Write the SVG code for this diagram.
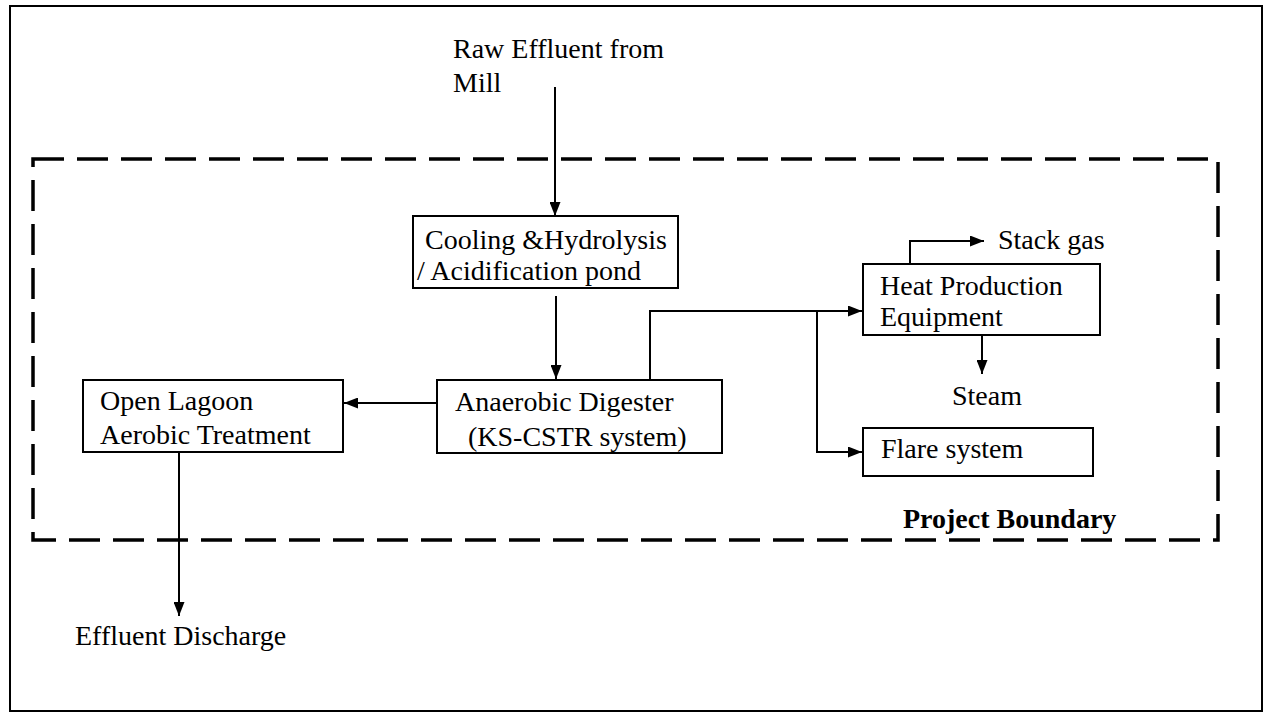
<svg xmlns="http://www.w3.org/2000/svg" width="1265" height="713" viewBox="0 0 1265 713">
<defs>
<marker id="ah" viewBox="0 0 14 11" refX="14" refY="5.5" markerWidth="14" markerHeight="11" markerUnits="userSpaceOnUse" orient="auto">
<path d="M0,0 L14,5.5 L0,11 z" fill="#000"/>
</marker>
</defs>
<style>
.t{font-family:"Liberation Serif","Times New Roman",serif;font-size:28px;fill:#000}
.b{font-weight:bold}
.box{fill:#fff;stroke:#000;stroke-width:2}
.c{fill:none;stroke:#000;stroke-width:2}
.a{marker-end:url(#ah)}
</style>
<rect x="0" y="0" width="1265" height="713" fill="#fff"/>
<rect id="frame" x="10" y="6" width="1252" height="705" fill="none" stroke="#000" stroke-width="2"/>
<g id="boundary">
<rect x="33" y="159" width="1185" height="381" fill="none" stroke="#000" stroke-width="3.5" stroke-dasharray="31 13"/>
<text class="t b" x="903" y="528">Project Boundary</text>
</g>
<g id="connectors">
<path class="c a" d="M555,87 V216"/>
<path class="c a" d="M556,296 V379"/>
<path class="c a" d="M437,403 H344"/>
<path class="c a" d="M179,452 V616"/>
<path class="c a" d="M650,380 V311 H862"/>
<path class="c a" d="M817,311 V452 H862"/>
<path class="c a" d="M910,264 V241 H984"/>
<path class="c a" d="M982,335 V374"/>
</g>
<g id="raw">
<text class="t" x="453" y="58">Raw Effluent from</text>
<text class="t" x="453" y="92">Mill</text>
</g>
<g id="cooling">
<rect class="box" x="413" y="216" width="265" height="72"/>
<text class="t" x="425" y="249">Cooling &amp;Hydrolysis</text>
<text class="t" x="417" y="280">/ Acidification pond</text>
</g>
<g id="anaerobic">
<rect class="box" x="437" y="380" width="285" height="73"/>
<text class="t" x="455" y="411">Anaerobic Digester</text>
<text class="t" x="468" y="446">(KS-CSTR system)</text>
</g>
<g id="lagoon">
<rect class="box" x="83" y="380" width="260" height="72"/>
<text class="t" x="100" y="410">Open Lagoon</text>
<text class="t" x="100" y="444">Aerobic Treatment</text>
</g>
<g id="heat">
<rect class="box" x="863" y="264" width="237" height="71"/>
<text class="t" x="880" y="295">Heat Production</text>
<text class="t" x="880" y="326">Equipment</text>
</g>
<g id="flare">
<rect class="box" x="863" y="428" width="230" height="48"/>
<text class="t" x="881" y="458">Flare system</text>
</g>
<g id="labels">
<text class="t" x="998" y="249">Stack gas</text>
<text class="t" x="952" y="405">Steam</text>
<text class="t" x="75" y="645">Effluent Discharge</text>
</g>
</svg>
